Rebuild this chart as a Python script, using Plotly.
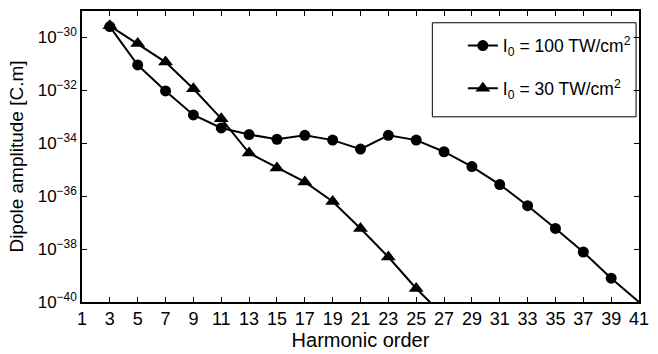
import plotly.graph_objects as go

harmonics_100 = [3, 5, 7, 9, 11, 13, 15, 17, 19, 21, 23, 25, 27, 29, 31, 33, 35, 37, 39, 43]
log_amp_100 = [-29.59, -31.04, -32.02, -32.93, -33.42, -33.67, -33.85, -33.70, -33.88, -34.22,
               -33.70, -33.88, -34.32, -34.88, -35.56, -36.36, -37.22, -38.11, -39.10, -40.90]

harmonics_30 = [3, 5, 7, 9, 11, 13, 15, 17, 19, 21, 23, 25, 27]
log_amp_30 = [-29.56, -30.23, -30.93, -31.94, -33.07, -34.37, -34.93, -35.46, -36.20, -37.22,
              -38.30, -39.49, -40.53]

x_ticks = list(range(1, 42, 2))
y_tick_exps = [-30, -32, -34, -36, -38, -40]

amp_100 = [10 ** v for v in log_amp_100]
amp_30 = [10 ** v for v in log_amp_30]

fig = go.Figure()
fig.add_trace(go.Scatter(
    x=harmonics_100, y=amp_100, mode="lines+markers",
    name="I<sub>0</sub> = 100 TW/cm<sup>2</sup>", legendgroup="a",
    line=dict(color="black", width=2),
    marker=dict(symbol="circle", size=11, color="black"),
    cliponaxis=True,
))
fig.add_trace(go.Scatter(
    x=harmonics_30, y=amp_30, mode="lines+markers",
    name="I<sub>0</sub> = 30 TW/cm<sup>2</sup>", legendgroup="b",
    line=dict(color="black", width=2),
    marker=dict(symbol="triangle-up", size=13, color="black"),
    cliponaxis=True,
))

font_family = "Liberation Sans, Arial, Helvetica, sans-serif"
L, R, T, B = 82, 648, 9, 306
W, H = R - L, B - T

def px_x(p):
    return (p - L) / W

def px_y(p):
    return 1 - (p - T) / H

fig.update_layout(
    width=658, height=354,
    margin=dict(l=L, r=658 - R, t=T, b=354 - B),
    paper_bgcolor="white", plot_bgcolor="white",
    font=dict(family=font_family, size=17, color="black"),
    showlegend=True,
    legend=dict(
        x=px_x(469), y=px_y(26),
        xanchor="left", yanchor="top",
        borderwidth=0, bgcolor="rgba(0,0,0,0)",
        font=dict(size=17.5, family=font_family),
        tracegroupgap=17,
    ),
    shapes=[dict(
        type="rect", xref="paper", yref="paper",
        x0=px_x(438), x1=px_x(645), y0=px_y(117), y1=px_y(21),
        line=dict(color="black", width=1), fillcolor="rgba(0,0,0,0)", layer="above",
    )],
    xaxis=dict(
        range=[1, 41], tickmode="array", tickvals=x_ticks,
        ticktext=[str(t) for t in x_ticks],
        ticks="inside", ticklen=5, tickwidth=1, tickcolor="black",
        showline=True, linecolor="black", linewidth=1.5, mirror="ticks",
        showgrid=False, zeroline=False,
        title=dict(text="Harmonic order", font=dict(size=20), standoff=2),
        tickfont=dict(size=18),
    ),
    yaxis=dict(
        type="log", range=[-40, -29], tickmode="array",
        tickvals=[10 ** e for e in y_tick_exps],
        ticktext=["10<sup>\u2212%d</sup>" % (-e) for e in y_tick_exps],
        ticks="inside", ticklen=5, tickwidth=1, tickcolor="black",
        showline=True, linecolor="black", linewidth=1.5, mirror="ticks",
        showgrid=False, zeroline=False,
        title=dict(text="Dipole amplitude [C.m]", font=dict(size=19), standoff=9),
        tickfont=dict(size=17),
    ),
)

fig.write_html("out.html")
